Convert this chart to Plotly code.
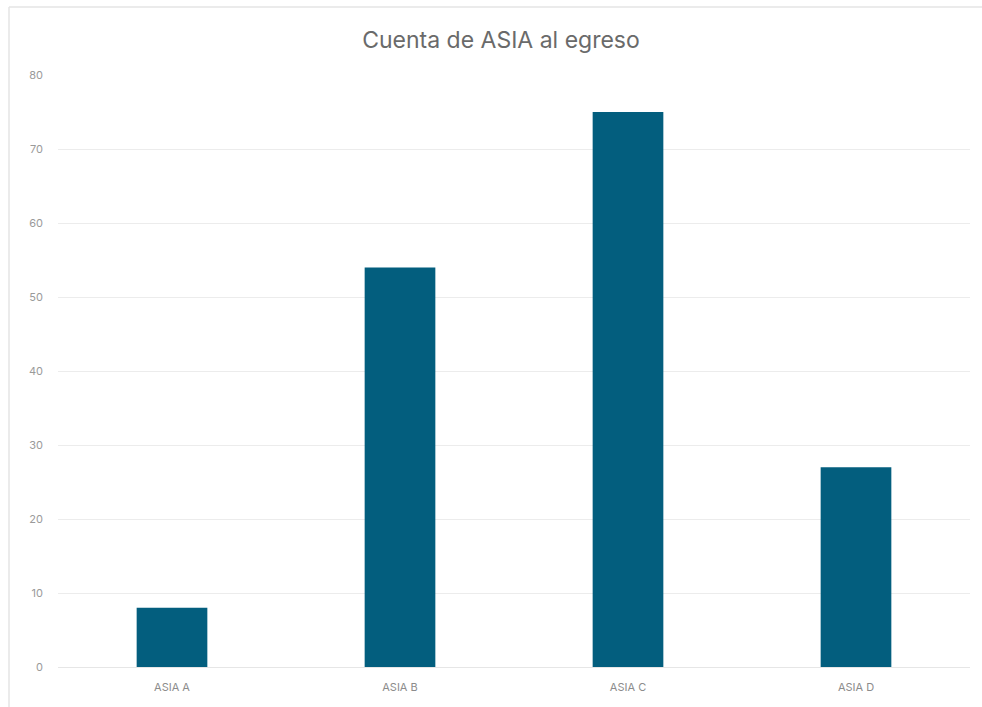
import plotly.graph_objects as go

categories = ["ASIA A", "ASIA B", "ASIA C", "ASIA D"]
values = [8, 54, 75, 27]
y_ticks = [0, 10, 20, 30, 40, 50, 60, 70, 80]

L, R, T, B = 58, 12, 75, 40
W, H = 982, 707
pw, ph = W - L - R, H - T - B

def px(x):
    return (x - L) / pw

def py(y):
    return (H - B - y) / ph

fig = go.Figure(go.Bar(x=categories, y=values, marker=dict(color="#035E7E", line=dict(width=0)), width=0.31))

fig.update_layout(
    width=W, height=H,
    margin=dict(l=L, r=R, t=T, b=B),
    paper_bgcolor="white", plot_bgcolor="white",
    title=dict(text="Cuenta de ASIA al egreso", xref="paper", x=px(501), xanchor="center",
               yref="container", y=1 - 40 / H, yanchor="middle",
               font=dict(family="Inter, Arial, sans-serif", size=23, color="#6a6a6a")),
    xaxis=dict(showgrid=False, showline=False, zeroline=False, ticks="",
               tickfont=dict(family="Inter, Arial, sans-serif", size=11, color="#8c8c8c"),
               ticklabelstandoff=12),
    yaxis=dict(range=[0, 80], tickvals=y_ticks, showgrid=True, gridcolor="#ececec", gridwidth=1,
               zeroline=True, zerolinecolor="#e6e6e6", zerolinewidth=1, showline=False, ticks="",
               tickfont=dict(family="Inter, Arial, sans-serif", size=11, color="#9a9a9a"),
               ticklabelstandoff=14),
    bargap=0.69,
    showlegend=False,
    shapes=[
        dict(type="line", xref="paper", yref="paper", x0=px(9), x1=px(9), y0=py(7), y1=py(720),
             line=dict(color="#e4e4e4", width=1.5)),
        dict(type="line", xref="paper", yref="paper", x0=px(9), x1=px(990), y0=py(7), y1=py(7),
             line=dict(color="#e4e4e4", width=1.5)),
    ],
)

fig.write_html("out.html")
